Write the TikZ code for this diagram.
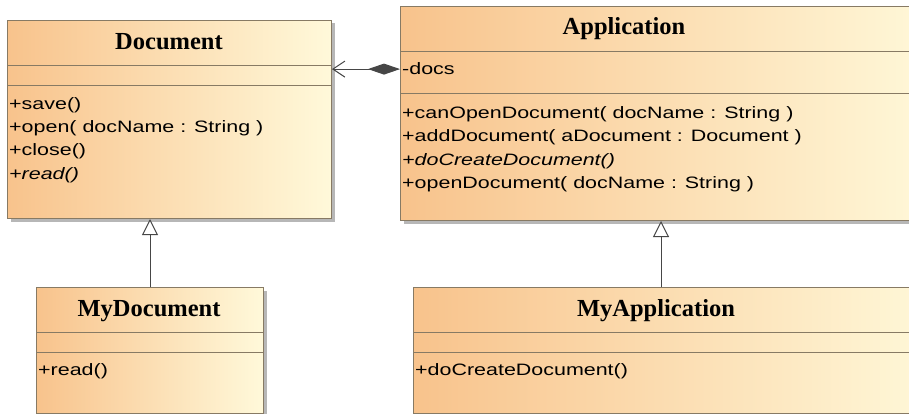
\documentclass[tikz,border=0pt]{standalone}
\usepackage{fontspec}
\setmainfont{Liberation Sans}[FakeStretch=1.3]
\newfontfamily\titlefont{Liberation Serif}
\usetikzlibrary{arrows.meta,shadows,calc}
\definecolor{boxL}{RGB}{248,195,140}
\definecolor{boxR}{RGB}{255,249,218}
\definecolor{edge}{RGB}{135,122,100}
\definecolor{conn}{RGB}{70,70,70}
\begin{document}
\begin{tikzpicture}[x=1pt,y=-1pt,
  classbox/.style={draw=edge, line width=1pt, left color=boxL, right color=boxR,
    anchor=north west, inner sep=0pt,
    drop shadow={shadow xshift=3pt, shadow yshift=-3pt, fill=black!35, opacity=0.8}},
  title/.style={anchor=base, font=\titlefont\bfseries\fontsize{24.5}{28}\selectfont, inner sep=0pt},
  member/.style={anchor=base west, font=\fontsize{16.5}{20}\selectfont, inner sep=0pt},
  sep/.style={draw=edge, line width=1pt},
  gen/.style={draw=conn, line width=1pt, -{Triangle[open, length=16pt, width=16pt, fill=white]}},
  comp/.style={draw=conn, line width=1pt,
    {Diamond[length=32pt, width=11pt, fill=conn]}-{Straight Barb[length=12pt, width=16pt]}}]
\fill[white] (0,0) rectangle (909,414);
\useasboundingbox (0,0) rectangle (909,414);
\clip (0,0) rectangle (909,414);

% Document
\node[classbox, minimum width=324pt, minimum height=198pt] (doc) at (7,20) {};
\draw[sep] ([yshift=-46pt]doc.north west) -- ([yshift=-46pt]doc.north east);
\draw[sep] ([yshift=-66pt]doc.north west) -- ([yshift=-66pt]doc.north east);
\node[title] (docT) at (169,50) {Document};
\node[member] (docM1) at (9,110) {+save()};
\node[member] (docM2) at (9,133) {+open( docName : String )};
\node[member] (docM3) at (9,156) {+close()};
\node[member] (docM4) at (9,179) {\itshape +read()};

% Application
\node[classbox, minimum width=540pt, minimum height=214pt] (app) at (400,6) {};
\draw[sep] ([yshift=-46pt]app.north west) -- ([yshift=-46pt]app.north east);
\draw[sep] ([yshift=-88pt]app.north west) -- ([yshift=-88pt]app.north east);
\node[title] (appT) at (624,35) {Application};
\node[member] (docs) at (402,75) {-docs};
\node[member] (appM1) at (402,119) {+canOpenDocument( docName : String )};
\node[member] (appM2) at (402,142) {+addDocument( aDocument : Document )};
\node[member] (appM3) at (402,165) {\itshape +doCreateDocument()};
\node[member] (appM4) at (402,188) {+openDocument( docName : String )};

% MyDocument
\node[classbox, minimum width=227pt, minimum height=126pt] (mydoc) at (36,287) {};
\draw[sep] ([yshift=-45pt]mydoc.north west) -- ([yshift=-45pt]mydoc.north east);
\draw[sep] ([yshift=-65pt]mydoc.north west) -- ([yshift=-65pt]mydoc.north east);
\node[title] (mydocT) at (149,316) {MyDocument};
\node[member] (mydocM1) at (38,375) {+read()};

% MyApplication
\node[classbox, minimum width=530pt, minimum height=126pt] (myapp) at (413,287) {};
\draw[sep] ([yshift=-45pt]myapp.north west) -- ([yshift=-45pt]myapp.north east);
\draw[sep] ([yshift=-65pt]myapp.north west) -- ([yshift=-65pt]myapp.north east);
\node[title] (myappT) at (656,316) {MyApplication};
\node[member] (myappM1) at (415,375) {+doCreateDocument()};

% connectors
\draw[gen] (mydoc.north) -- (mydoc.north |- doc.south);
\coordinate (ma) at ($(myapp.north west)+(248,0)$);
\draw[gen] (ma) -- (ma |- app.south);
\draw[comp] (app.west |- docs.center) -- (doc.east |- docs.center);
\end{tikzpicture}
\end{document}
